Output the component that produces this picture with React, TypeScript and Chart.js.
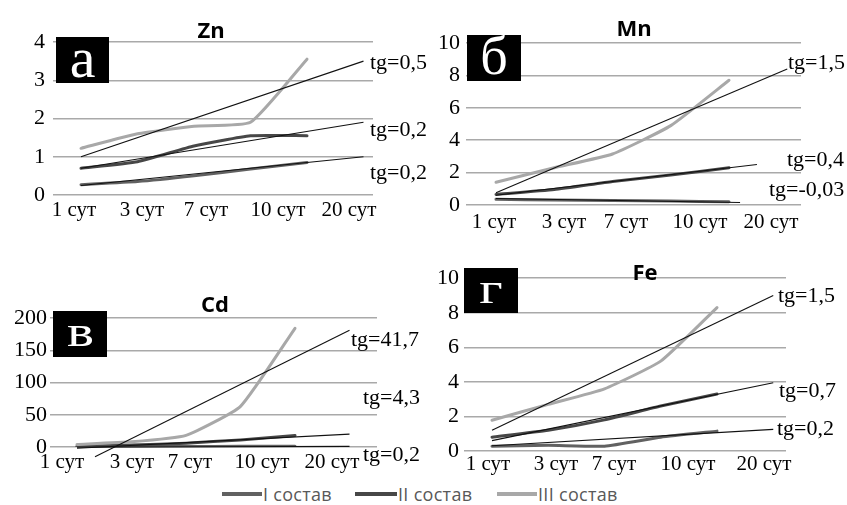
import React, { useEffect, useRef } from "react";
import { Chart, registerables } from "chart.js";

Chart.register(...registerables);

// ---------- data ----------
const days = ["1 сут", "3 сут", "7 сут", "10 сут", "20 сут"];
const seriesNames = ["I состав", "II состав", "III состав"];

type Pt = { x: number; y: number };

// Zn
const znI = [0.27, 0.35, 0.5, 0.68, 0.85];
const znII = [0.7, 0.87, 1.28, 1.55, 1.55];
const znIII = [1.22, 1.6, 1.8, 1.9, 3.55];
const znTrendI: Pt[] = [{ x: 1, y: 0.25 }, { x: 6, y: 1.0 }];
const znTrendII: Pt[] = [{ x: 1, y: 0.7 }, { x: 6, y: 1.9 }];
const znTrendIII: Pt[] = [{ x: 1, y: 1.0 }, { x: 6, y: 3.5 }];
const znSlopes = ["tg=0,5", "tg=0,2", "tg=0,2"];
const znTicks = [0, 1, 2, 3, 4];

// Mn
const mnI = [0.35, 0.31, 0.28, 0.24, 0.2];
const mnII = [0.65, 0.95, 1.45, 1.85, 2.3];
const mnIII = [1.4, 2.3, 3.15, 4.9, 7.7];
const mnTrendI: Pt[] = [{ x: 1, y: 0.4 }, { x: 5.19, y: 0.15 }];
const mnTrendII: Pt[] = [{ x: 1, y: 0.6 }, { x: 5.48, y: 2.5 }];
const mnTrendIII: Pt[] = [{ x: 1, y: 0.75 }, { x: 6, y: 8.4 }];
const mnSlopes = ["tg=1,5", "tg=0,4", "tg=-0,03"];
const mnTicks = [0, 2, 4, 6, 8, 10];

// Cd
const cdI = [0.5, 0.5, 0.8, 1, 1];
const cdII = [1, 3, 6, 11, 18];
const cdIII = [4, 8, 18, 63, 184];
const cdTrendI: Pt[] = [{ x: 1, y: -0.5 }, { x: 6, y: 1 }];
const cdTrendII: Pt[] = [{ x: 1, y: -2 }, { x: 6, y: 20 }];
const cdTrendIII: Pt[] = [{ x: 1.33, y: -15 }, { x: 6, y: 181 }];
const cdSlopes = ["tg=41,7", "tg=4,3", "tg=0,2"];
const cdTicks = [0, 50, 100, 150, 200];

// Fe
const feI = [0.28, 0.33, 0.28, 0.8, 1.15];
const feII = [0.8, 1.2, 1.8, 2.6, 3.3];
const feIII = [1.78, 2.7, 3.6, 5.2, 8.3];
const feTrendI: Pt[] = [{ x: 1, y: 0.3 }, { x: 6, y: 1.25 }];
const feTrendII: Pt[] = [{ x: 1, y: 0.6 }, { x: 6, y: 3.95 }];
const feTrendIII: Pt[] = [{ x: 1, y: 1.2 }, { x: 6, y: 9.0 }];
const feSlopes = ["tg=1,5", "tg=0,7", "tg=0,2"];
const feTicks = [0, 2, 4, 6, 8, 10];

// ---------- styles ----------
const SERIF = "'Liberation Serif', 'Times New Roman', serif";
const SANS = "'Open Sans', 'Noto Sans', sans-serif";
const COLORS = ["#616161", "#474747", "#a8a8a8"];
const GRID = "#a9a9a9";

interface PanelData {
  title: string;
  letter: string;
  series: number[][];
  trends: Pt[][];
  slopes: string[];
  yTicks: number[];
}

interface PanelLayout {
  cx: number; cy: number; cw: number; ch: number;
  L: number; R: number; T: number; B: number;
  p1: number; s: number;
  labelPx: number[];
  yPad: number; xPad: number;
  titleX: number; titleY: number;
  box: [number, number, number, number];
  letterSize: number; letterScale: number;
  slopePos: [number, number][];
}

const panels: { d: PanelData; lay: PanelLayout }[] = [
  {
    d: { title: "Zn", letter: "а", series: [znI, znII, znIII], trends: [znTrendIII, znTrendII, znTrendI], slopes: znSlopes, yTicks: znTicks },
    lay: {
      cx: 0, cy: 0, cw: 424, ch: 260, L: 53, R: 373, T: 42, B: 195, p1: 81, s: 56.5,
      labelPx: [74, 142, 206, 278, 349], yPad: 8, xPad: 3,
      titleX: 211, titleY: 29, box: [56, 37, 53, 46], letterSize: 58, letterScale: 1,
      slopePos: [[370, 50.5], [370, 117.5], [370, 160.5]],
    },
  },
  {
    d: { title: "Mn", letter: "б", series: [mnI, mnII, mnIII], trends: [mnTrendIII, mnTrendII, mnTrendI], slopes: mnSlopes, yTicks: mnTicks },
    lay: {
      cx: 424, cy: 0, cw: 423, ch: 260, L: 466, R: 801, T: 43, B: 205, p1: 496, s: 58.25,
      labelPx: [494, 564, 626, 700, 771], yPad: 6, xPad: 5,
      titleX: 634, titleY: 27, box: [467, 35, 54, 46], letterSize: 54, letterScale: 1,
      slopePos: [[788, 50.5], [787, 147.5], [769, 178]],
    },
  },
  {
    d: { title: "Cd", letter: "в", series: [cdI, cdII, cdIII], trends: [cdTrendIII, cdTrendII, cdTrendI], slopes: cdSlopes, yTicks: cdTicks },
    lay: {
      cx: 0, cy: 260, cw: 424, ch: 220, L: 50, R: 377, T: 318, B: 447, p1: 77, s: 54.5,
      labelPx: [62, 132, 190, 262, 332], yPad: 3, xPad: 3,
      titleX: 215, titleY: 303, box: [53, 311, 54, 46], letterSize: 44, letterScale: 1.3,
      slopePos: [[351, 327.5], [363, 385.5], [363, 442.5]],
    },
  },
  {
    d: { title: "Fe", letter: "г", series: [feI, feII, feIII], trends: [feTrendIII, feTrendII, feTrendI], slopes: feSlopes, yTicks: feTicks },
    lay: {
      cx: 424, cy: 260, cw: 423, ch: 220, L: 464, R: 786, T: 275, B: 451, p1: 492, s: 56.25,
      labelPx: [488, 556, 614, 688, 764], yPad: 5, xPad: 1,
      titleX: 645, titleY: 271, box: [464, 268, 54, 45], letterSize: 44, letterScale: 1.3,
      slopePos: [[778, 284], [779, 379], [777, 416.5]],
    },
  },
];

function Panel({ d, lay }: { d: PanelData; lay: PanelLayout }) {
  const ref = useRef<HTMLCanvasElement | null>(null);
  useEffect(() => {
    if (!ref.current) return;
    const xmin = 1 - (lay.p1 - lay.L) / lay.s;
    const xmax = 1 + (lay.R - lay.p1) / lay.s;
    const tickVals = lay.labelPx.map((p) => 1 + (p - lay.p1) / lay.s);
    const yMin = d.yTicks[0];
    const yMax = d.yTicks[d.yTicks.length - 1];

    const trendSets = d.trends.map((t) => ({
      data: t,
      borderColor: "#111",
      borderWidth: 1.1,
      pointRadius: 0,
      tension: 0,
      clip: false as any,
    }));
    const dataSets = d.series.map((vals, i) => ({
      label: seriesNames[i],
      data: vals.map((v, k) => ({ x: k + 1, y: v })),
      borderColor: COLORS[i],
      borderWidth: 3,
      pointRadius: 0,
      tension: 0.15,
      borderCapStyle: "round" as const,
    }));

    const chart = new Chart(ref.current, {
      type: "line",
      data: { datasets: [...trendSets, ...dataSets.reverse()] as any },
      options: {
        responsive: false,
        animation: false,
        layout: { padding: { left: 0, bottom: 0, top: lay.T - lay.cy, right: lay.cx + lay.cw - lay.R } },
        plugins: { legend: { display: false }, tooltip: { enabled: false }, title: { display: false } },
        scales: {
          x: {
            type: "linear",
            min: xmin,
            max: xmax,
            bounds: "data",
            grid: { display: false, drawTicks: false },
            border: { display: false },
            afterBuildTicks: (sc: any) => {
              sc.ticks = tickVals.map((v) => ({ value: v }));
            },
            afterFit: (sc: any) => {
              sc.height = lay.cy + lay.ch - lay.B;
            },
            ticks: {
              autoSkip: false,
              maxRotation: 0,
              minRotation: 0,
              padding: lay.xPad,
              color: "#000",
              font: { family: SERIF, size: 21 },
              callback: (_v: any, i: number) => days[i],
            },
          },
          y: {
            type: "linear",
            min: yMin,
            max: yMax,
            grid: { color: GRID, lineWidth: 1.5, drawTicks: false },
            border: { display: false },
            afterBuildTicks: (sc: any) => {
              sc.ticks = d.yTicks.map((v) => ({ value: v }));
            },
            afterFit: (sc: any) => {
              sc.width = lay.L - lay.cx;
            },
            ticks: {
              padding: lay.yPad,
              color: "#000",
              font: { family: SERIF, size: 22 },
              callback: (v: any) => String(v),
            },
          },
        },
      } as any,
    });
    return () => chart.destroy();
  }, [d, lay]);

  const [bx, by, bw, bh] = lay.box;
  return (
    <>
      <canvas
        ref={ref}
        width={lay.cw}
        height={lay.ch}
        style={{ position: "absolute", left: lay.cx, top: lay.cy, width: lay.cw, height: lay.ch, display: "block" }}
      />
      <div
        style={{
          position: "absolute",
          left: lay.titleX,
          top: lay.titleY,
          transform: "translate(-50%, -50%)",
          fontFamily: SANS,
          fontWeight: 700,
          fontSize: 22,
          lineHeight: "22px",
          color: "#000",
          whiteSpace: "nowrap",
        }}
      >
        {d.title}
      </div>
      <div
        style={{
          position: "absolute",
          left: bx,
          top: by,
          width: bw,
          height: bh,
          background: "#000",
          color: "#fff",
          display: "flex",
          alignItems: "center",
          justifyContent: "center",
          fontFamily: SERIF,
          fontSize: lay.letterSize,
          lineHeight: 1,
          overflow: "hidden",
        }}
      >
        <span style={{ display: "inline-block", transform: `scaleX(${lay.letterScale})`, marginTop: -4 }}>{d.letter}</span>
      </div>
      {d.slopes.map((t, i) => (
        <div
          key={i}
          style={{
            position: "absolute",
            left: lay.slopePos[i][0],
            top: lay.slopePos[i][1],
            fontFamily: SERIF,
            fontSize: 22,
            lineHeight: "22px",
            color: "#000",
            whiteSpace: "nowrap",
          }}
        >
          {t}
        </div>
      ))}
    </>
  );
}

const legendPos: [number, number][] = [
  [222, 262],
  [355, 397],
  [497, 537],
];

export default function App() {
  return (
    <div
      style={{
        position: "absolute",
        left: 0,
        top: 0,
        width: 847,
        height: 505,
        background: "#fff",
        overflow: "hidden",
      }}
    >
      {panels.map((p, i) => (
        <Panel key={i} d={p.d} lay={p.lay} />
      ))}
      {seriesNames.map((n, i) => (
        <React.Fragment key={n}>
          <div
            style={{
              position: "absolute",
              left: legendPos[i][0],
              top: 492,
              width: legendPos[i][1] - legendPos[i][0],
              height: 4,
              background: COLORS[i],
            }}
          />
          <div
            style={{
              position: "absolute",
              left: legendPos[i][1] + 1,
              top: 483,
              fontFamily: SANS,
              fontSize: 18,
              lineHeight: "22px",
              letterSpacing: 0.3,
              color: "#595959",
              whiteSpace: "nowrap",
            }}
          >
            {n}
          </div>
        </React.Fragment>
      ))}
    </div>
  );
}
